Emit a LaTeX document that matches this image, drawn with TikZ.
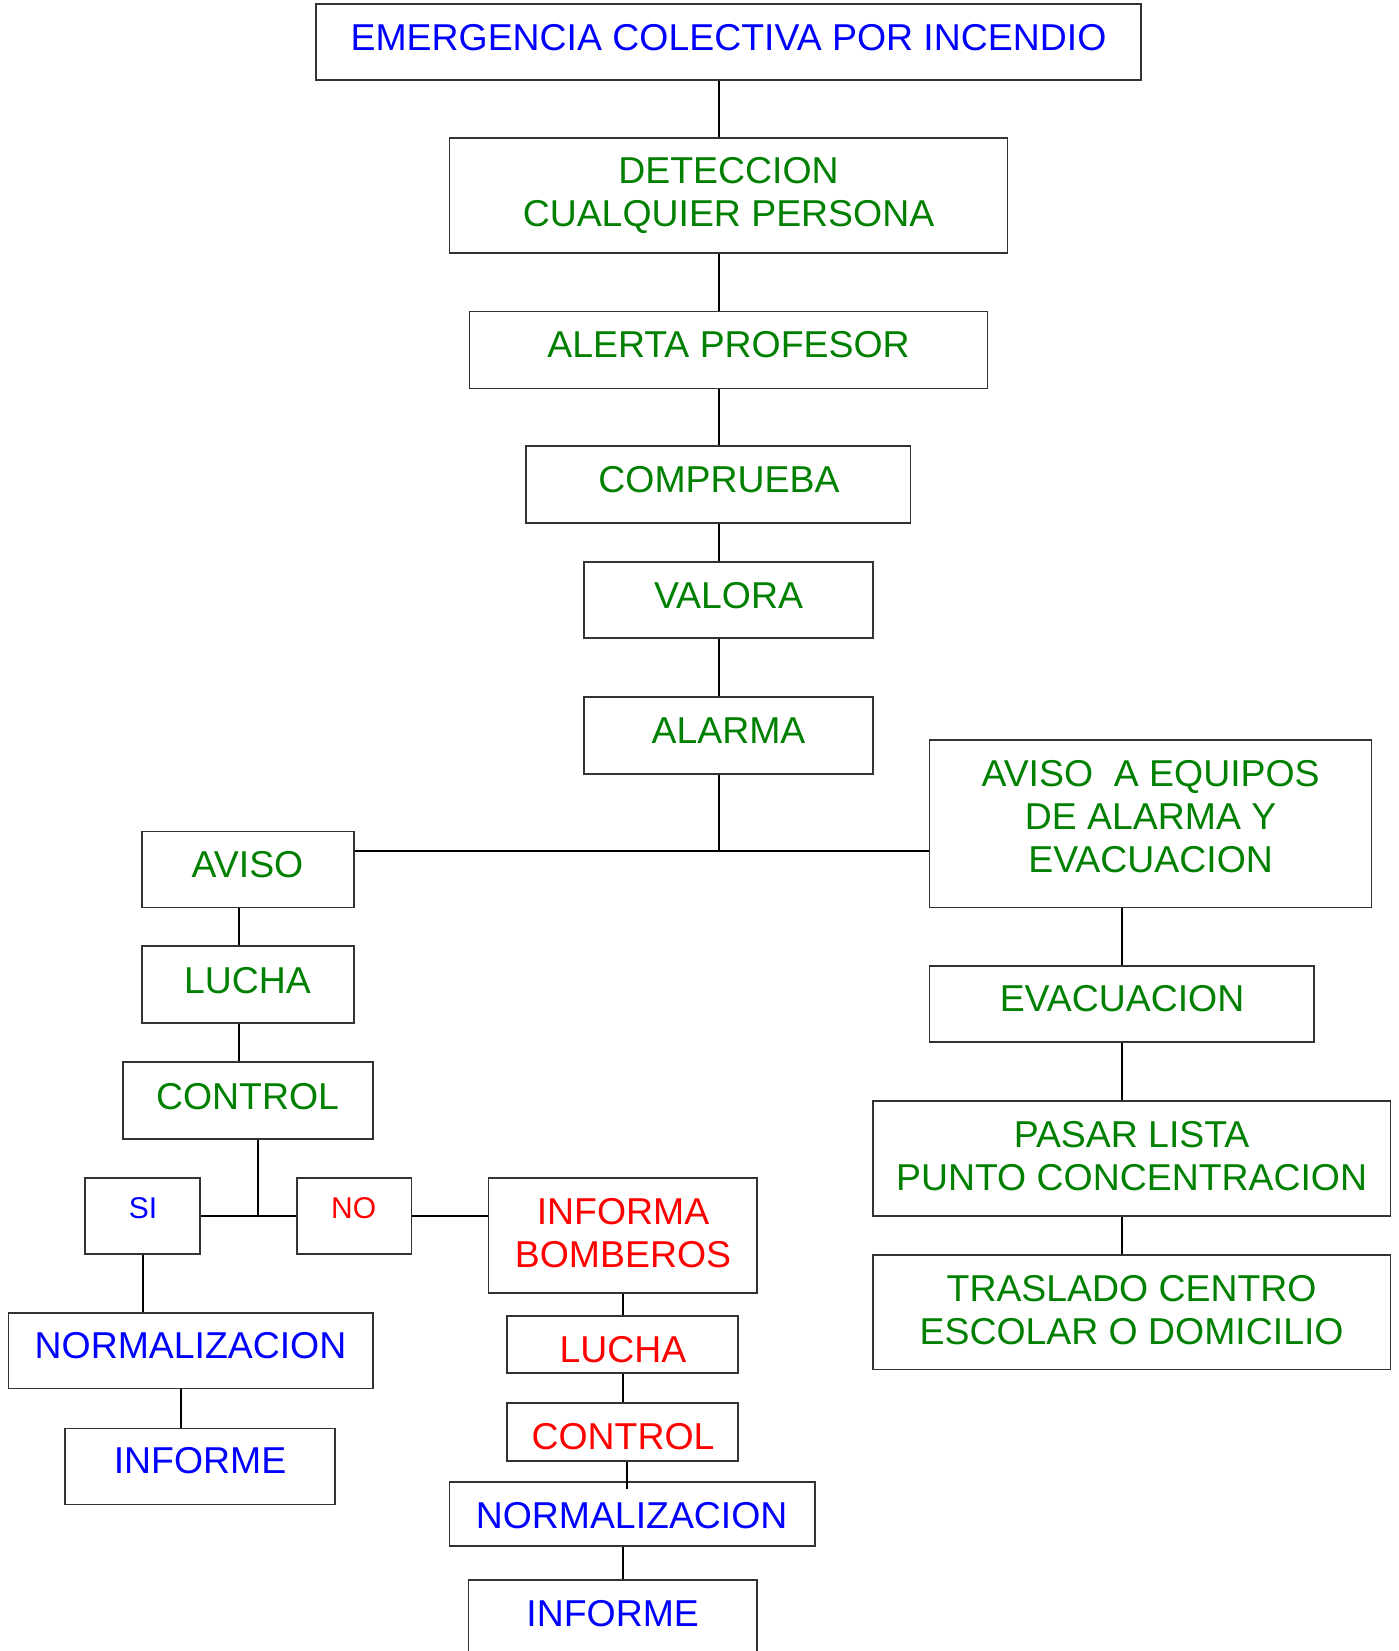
\documentclass[tikz,border=0pt]{standalone}
\usepackage{fontspec}
\setmainfont{Liberation Sans}
\definecolor{cblue}{RGB}{0,0,255}
\definecolor{cgreen}{RGB}{0,128,0}
\definecolor{cred}{RGB}{255,0,0}
\begin{document}
\begin{tikzpicture}[x=1pt,y=-1pt,
  bx/.style={draw=black!80,line width=1.7pt,inner sep=0pt,rectangle},
  txt/.style={inner sep=0pt,align=center,font=\fontsize{37.4}{43.2}\selectfont},
  gt/.style={txt,text=cgreen},
  bt/.style={txt,text=cblue},
  rt/.style={txt,text=cred},
  sm/.style={inner sep=0pt,align=center,font=\fontsize{30}{34}\selectfont},
  ln/.style={draw=black,line width=2pt}]
\useasboundingbox (0,0) rectangle (1399,1651);
\clip (0,0) rectangle (1399,1651);
% boxes
\node[bx,minimum width=825,minimum height=76] (emerg) at (728.5,42) {};
\node[bx,minimum width=558,minimum height=115] (detec) at (728.5,195.5) {};
\node[bx,minimum width=518,minimum height=77] (alerta) at (728.5,350) {};
\node[bx,minimum width=384.6,minimum height=77] (compr) at (718.3,484.5) {};
\node[bx,minimum width=288.7,minimum height=76] (valora) at (728.3,600) {};
\node[bx,minimum width=288.7,minimum height=77] (alarma) at (728.3,735.5) {};
\node[bx,minimum width=211.7,minimum height=76] (aviso) at (247.9,869.5) {};
\node[bx,minimum width=442,minimum height=167.4] (equipos) at (1150.6,823.7) {};
\node[bx,minimum width=211.7,minimum height=77] (lucha1) at (247.9,984.5) {};
\node[bx,minimum width=249.7,minimum height=77] (control1) at (247.9,1100.5) {};
\node[bx,minimum width=115,minimum height=76] (si) at (142.5,1216) {};
\node[bx,minimum width=114.6,minimum height=76] (no) at (354.3,1216) {};
\node[bx,minimum width=268.5,minimum height=115] (inform) at (622.75,1235.5) {};
\node[bx,minimum width=364.3,minimum height=75.6] (norm1) at (190.5,1350.8) {};
\node[bx,minimum width=269.8,minimum height=76] (informe1) at (200,1466.5) {};
\node[bx,minimum width=231,minimum height=57] (lucha2) at (622.5,1344.5) {};
\node[bx,minimum width=231,minimum height=58] (control2) at (622.5,1432) {};
\node[bx,minimum width=365.3,minimum height=64] (norm2) at (632.2,1514) {};
\node[bx,minimum width=288.5,minimum height=100] (informe2) at (612.75,1630) {};
\node[bx,minimum width=384.3,minimum height=76] (evac) at (1121.7,1004) {};
\node[bx,minimum width=517.9,minimum height=115] (pasar) at (1131.6,1158.5) {};
\node[bx,minimum width=517.9,minimum height=114.6] (trasl) at (1131.6,1312.3) {};
% texts
\node[bt] (t-emerg) at (728.5,37.5) {EMERGENCIA COLECTIVA POR INCENDIO};
\node[gt] (t-detec) at (728.5,195.5) {DETECCION\\CUALQUIER PERSONA};
\node[gt] (t-alerta) at (728.5,345) {ALERTA PROFESOR};
\node[gt] (t-compr) at (719,480) {COMPRUEBA};
\node[gt] (t-valora) at (728.5,596) {VALORA};
\node[gt] (t-alarma) at (728.5,730.5) {ALARMA};
\node[gt] (t-aviso) at (247.5,865) {AVISO};
\node[gt] (t-equipos) at (1150.6,816.5) {AVISO\ \ A EQUIPOS\\DE ALARMA Y\\EVACUACION};
\node[gt] (t-lucha1) at (247.5,981) {LUCHA};
\node[gt] (t-control1) at (247.5,1097) {CONTROL};
\node[sm,text=cblue] (t-si) at (143,1208) {SI};
\node[sm,text=cred] (t-no) at (353.7,1208) {NO};
\node[rt] (t-inform) at (623,1233) {INFORMA\\BOMBEROS};
\node[bt] (t-norm1) at (190.5,1346) {NORMALIZACION};
\node[bt] (t-informe1) at (200,1461) {INFORME};
\node[rt] (t-lucha2) at (623,1349.5) {LUCHA};
\node[rt] (t-control2) at (623,1437) {CONTROL};
\node[bt] (t-norm2) at (631.6,1516) {NORMALIZACION};
\node[bt] (t-informe2) at (612.7,1614) {INFORME};
\node[gt] (t-evac) at (1122,999) {EVACUACION};
\node[gt] (t-pasar) at (1131.6,1156.3) {PASAR LISTA\\PUNTO CONCENTRACION};
\node[gt] (t-trasl) at (1131.6,1310) {TRASLADO CENTRO\\ESCOLAR O DOMICILIO};
% connector reference coordinates
\coordinate (spine) at (719,0);
\coordinate (hbar) at (719,850.6);
\coordinate (lspine) at (239,0);
\coordinate (junc) at (258,1216);
\coordinate (nx) at (181,0);
\coordinate (bx2) at (623,0);
\coordinate (cx2) at (627.4,0);
\coordinate (rspine) at (1122,0);
% connectors
\draw[ln] (emerg.south -| spine) -- (detec.north -| spine);
\draw[ln] (detec.south -| spine) -- (alerta.north -| spine);
\draw[ln] (alerta.south -| spine) -- (compr.north -| spine);
\draw[ln] (compr.south -| spine) -- (valora.north -| spine);
\draw[ln] (valora.south -| spine) -- (alarma.north -| spine);
\draw[ln] (alarma.south -| spine) -- (hbar);
\draw[ln] (hbar -| aviso.east) -- (hbar -| equipos.west);
\draw[ln] (aviso.south -| lspine) -- (lucha1.north -| lspine);
\draw[ln] (lucha1.south -| lspine) -- (control1.north -| lspine);
\draw[ln] (control1.south -| junc) -- (junc);
\draw[ln] (si.east) -- (no.west);
\draw[ln] (no.east) -- (no.east -| inform.west);
\draw[ln] (si.south) -- (si.south |- norm1.north);
\draw[ln] (norm1.south -| nx) -- (informe1.north -| nx);
\draw[ln] (inform.south -| bx2) -- (lucha2.north -| bx2);
\draw[ln] (lucha2.south -| bx2) -- (control2.north -| bx2);
\draw[ln] (control2.south -| cx2) -- ([yshift=-8pt]norm2.north -| cx2);
\draw[ln] (norm2.south -| bx2) -- (informe2.north -| bx2);
\draw[ln] (equipos.south -| rspine) -- (evac.north -| rspine);
\draw[ln] (evac.south -| rspine) -- (pasar.north -| rspine);
\draw[ln] (pasar.south -| rspine) -- (trasl.north -| rspine);
\end{tikzpicture}
\end{document}
